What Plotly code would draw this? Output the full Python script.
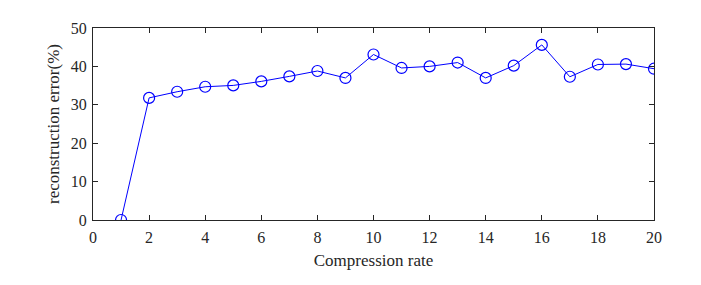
import plotly.graph_objects as go

rates = list(range(1, 21))
errors = [0.0, 31.8, 33.4, 34.7, 35.05, 36.1, 37.4, 38.8, 37.0, 43.1,
          39.6, 40.0, 41.0, 37.0, 40.2, 45.6, 37.3, 40.5, 40.6, 39.4]
x_ticks = list(range(0, 21, 2))
y_ticks = [0, 10, 20, 30, 40, 50]

SERIF = "Times New Roman, Liberation Serif, serif"

fig = go.Figure(go.Scatter(
    x=rates, y=errors, mode="lines+markers",
    line=dict(color="#0000ff", width=1),
    marker=dict(symbol="circle-open", size=11, color="#0000ff", line=dict(width=1.2)),
))

axis_common = dict(
    showline=True, linecolor="#262626", linewidth=1, mirror="ticks",
    ticks="inside", ticklen=5, tickcolor="#262626", showgrid=False, zeroline=False,
    tickfont=dict(family=SERIF, size=16, color="#262626"),
)
fig.update_xaxes(range=[0, 20], tickvals=x_ticks, ticklabelstandoff=3,
                 title=dict(text="Compression rate", font=dict(family=SERIF, size=17, color="#262626"), standoff=8),
                 **axis_common)
fig.update_yaxes(range=[0, 50], tickvals=y_ticks, ticklabelstandoff=2,
                 title=dict(text="reconstruction error(%)", font=dict(family=SERIF, size=17, color="#262626"), standoff=6),
                 **axis_common)
fig.update_layout(
    width=701, height=285,
    margin=dict(l=85, r=55, t=15, b=73),
    plot_bgcolor="white", paper_bgcolor="white",
    showlegend=False,
    font=dict(family=SERIF),
)
fig.write_html("out.html")
